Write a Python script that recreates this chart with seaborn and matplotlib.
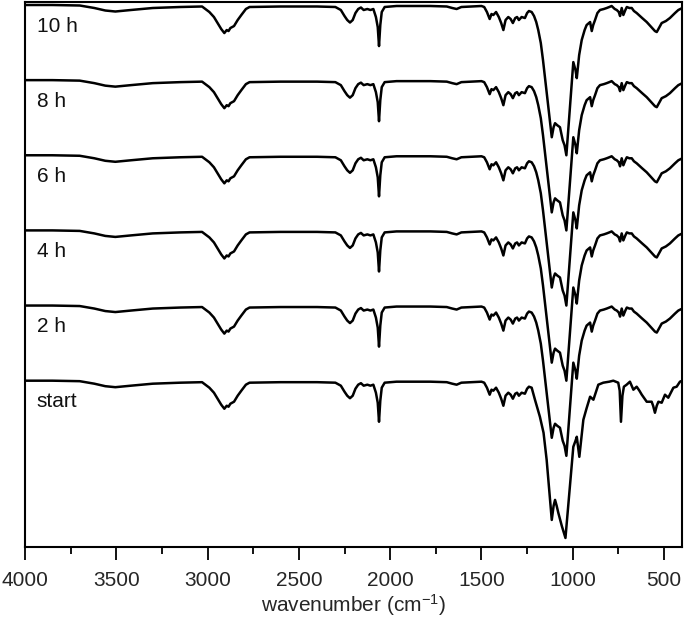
import numpy as np
import pandas as pd
import matplotlib
matplotlib.use('Agg')
import matplotlib.pyplot as plt
import seaborn as sns

# spectra: depth of each point below the trace baseline (a.u.)
# 4000-1240 cm-1 looks the same for every sample
hf_wn = [4000, 3850, 3700, 3620, 3560, 3505, 3420, 3300, 3150, 3030, 2990, 2965, 2945,
         2925, 2908, 2895, 2885, 2875, 2855, 2835, 2815, 2790, 2770, 2600, 2400, 2300,
         2270, 2250, 2235, 2220, 2205, 2190, 2175, 2160, 2145, 2125, 2108, 2092, 2078,
         2068, 2061, 2054, 2046, 2030, 1965, 1850, 1780, 1690, 1660, 1636, 1610, 1500,
         1485, 1470, 1455, 1445, 1435, 1420, 1405, 1392, 1380, 1368, 1353, 1340, 1328,
         1315, 1305, 1295, 1280, 1262, 1250, 1240]
hf_depth = [0, 0, 0.5, 3, 5.5, 6.5, 5, 3, 2, 1.5, 7, 12, 18,
            24, 28, 25, 26, 23, 21, 15, 10, 4, 2, 1.5, 1.5, 2,
            5, 11, 15, 17.5, 15, 8, 4, 2.5, 5, 4, 5, 4, 12,
            22, 41, 20, 7, 2, 1, 1, 1, 1.5, 3, 4, 2, 1,
            2, 7, 14, 9, 10, 7, 12, 18, 25, 15, 12, 14, 18,
            13, 12, 15, 12, 13, 8, 6]

# fingerprint region after treatment (2 h ... 10 h)
treated_wn = [1225, 1212, 1200, 1189, 1175, 1163, 1115, 1105, 1097, 1085, 1070, 1055,
              1045, 1035, 997, 985, 978, 965, 951, 935, 924, 905, 896, 888, 878, 865,
              851, 830, 814, 800, 787, 770, 759, 748, 741, 732, 723, 712, 704, 690, 677,
              665, 650, 620, 595, 570, 550, 540, 525, 513, 490, 468, 440, 422, 400]
treated_depth = [7, 11, 17, 25, 38, 55, 132, 122, 118, 120, 122, 135,
                 140, 150, 57, 65, 73, 50, 35, 25, 20, 17, 26, 20, 15, 8,
                 5, 4, 3, 2, 1, 4, 5, 7, 11, 3, 10, 5, 2, 3, 3,
                 6, 8, 13, 17, 22, 26, 27, 22, 18, 16, 13, 8, 5, 3]

# fingerprint region of the starting material
start_wn = [1225, 1207, 1180, 1160, 1143, 1115, 1105, 1097, 1088, 1079, 1060, 1040,
            997, 985, 978, 964, 942, 925, 905, 887, 860, 833, 800, 778, 751, 743,
            736, 728, 720, 705, 687, 668, 650, 635, 622, 595, 568, 560, 550, 540,
            531, 513, 495, 477, 449, 431, 413, 400]
start_depth = [7, 19, 36, 52, 79, 139, 125, 119, 125, 132, 145, 157,
               66, 60, 56, 76, 39, 28, 16, 19, 4, 2, 1, 0, 2, 10,
               41, 15, 6, 4, 1, 9, 6, 10, 14, 21, 21, 25, 32, 25,
               21, 22, 14, 17, 7, 6, 1, 0]

labels = ["start", "2 h", "4 h", "6 h", "8 h", "10 h"]
offsets = [0, 75, 150, 225, 300, 375]

rows = []
for lab, off in zip(labels, offsets):
    if lab == "start":
        wn = hf_wn + start_wn
        d = hf_depth + start_depth
    else:
        wn = hf_wn + treated_wn
        d = hf_depth + treated_depth
    for w, dd in zip(wn, d):
        rows.append({"label": lab, "wn": w, "y": off - dd})
df = pd.DataFrame(rows)

sns.set_style("ticks")
plt.rcParams['font.family'] = ['Liberation Sans', 'DejaVu Sans']
plt.rcParams['mathtext.fontset'] = 'custom'
plt.rcParams['mathtext.rm'] = 'Liberation Sans'
plt.rcParams['mathtext.it'] = 'Liberation Sans'

fig = plt.figure(figsize=(6.85, 6.22), dpi=100)
ax = fig.add_axes([0.0364, 0.1206, 0.9597, 0.8762])

sns.lineplot(data=df, x="wn", y="y", units="label", estimator=None, sort=False,
             color="black", lw=1.8, ax=ax)

for lab, off in zip(labels, offsets):
    ax.text(3935, off - 21, lab, fontsize=15, va="center", ha="left", color="#111111")

ax.set_xlim(4000, 400)
ax.set_ylim(-166, 378)
ax.set_xticks([4000, 3500, 3000, 2500, 2000, 1500, 1000, 500])
ax.set_xticks(np.arange(3750, 400, -500), minor=True)
ax.set_yticks([])
ax.tick_params(axis="x", which="major", length=9, width=1.3, labelsize=15, pad=8, color="black")
ax.tick_params(axis="x", which="minor", length=5, width=1.3, color="black")
for s in ax.spines.values():
    s.set_linewidth(1.5)
    s.set_color("black")
ax.set_xlabel("wavenumber (cm$^{-1}$)", fontsize=15, labelpad=2)
ax.set_ylabel("")

fig.savefig("out.png", dpi=100)
